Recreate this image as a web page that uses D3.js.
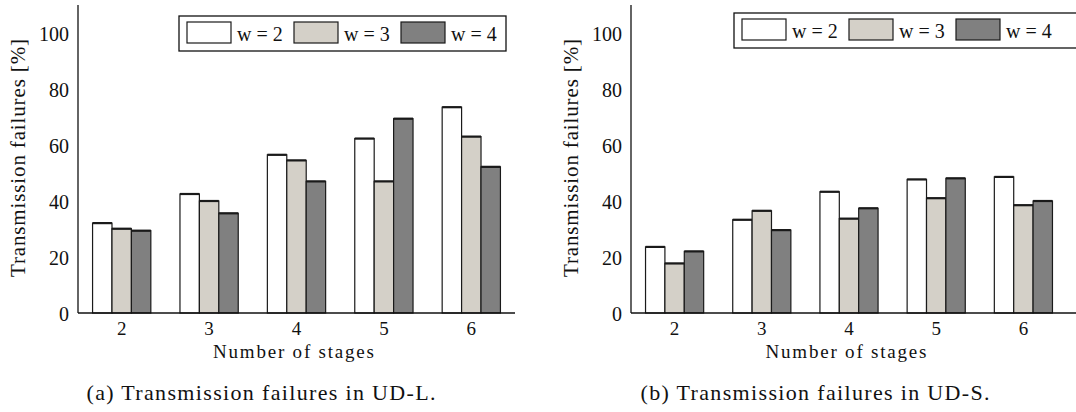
<!DOCTYPE html>
<html>
<head>
<meta charset="utf-8">
<script src="https://cdn.jsdelivr.net/npm/d3@7"></script>
<style>
  body { margin: 0; background: #fff; }
  svg { display: block; font-family: "Liberation Serif", serif; fill: #111; }
</style>
</head>
<body>
<div id="chart"></div>
<script>
var stages = ['2', '3', '4', '5', '6'];
var series = ['w = 2', 'w = 3', 'w = 4'];
var colors = ['#ffffff', '#d4d0c8', '#808080'];
var yTicks = [0, 20, 40, 60, 80, 100];

// UD-L
var udlW2 = [32.1, 42.5, 56.5, 62.3, 73.5];
var udlW3 = [30.1, 40.0, 54.5, 47.0, 63.0];
var udlW4 = [29.4, 35.6, 47.0, 69.4, 52.2];
// UD-S
var udsW2 = [23.6, 33.3, 43.3, 47.7, 48.6];
var udsW3 = [17.7, 36.5, 33.7, 41.0, 38.5];
var udsW4 = [22.0, 29.6, 37.4, 48.1, 40.0];

var panels = [
  { caption: '(a) Transmission failures in UD-L.', data: [udlW2, udlW3, udlW4],
    x0: 78, x1: 515, lineEnd: 515, capX: 261, legX: 179, legY: 16, legW: 327 },
  { caption: '(b) Transmission failures in UD-S.', data: [udsW2, udsW3, udsW4],
    x0: 631, x1: 1067, lineEnd: 1080, capX: 815, legX: 734, legY: 13, legW: 360 }
];

var width = 1076, height = 412;
var svg = d3.select('#chart').append('svg')
  .attr('width', width)
  .attr('height', height);

var y = d3.scaleLinear().domain([0, 110]).range([313, 5]);

panels.forEach(function(p) {
  var g = svg.append('g');

  var x = d3.scaleBand().domain(stages).range([p.x0, p.x1])
    .paddingInner(1 / 3).paddingOuter(1 / 6);
  var xs = d3.scaleBand().domain(series).range([0, x.bandwidth()]);

  // bars
  series.forEach(function(s, si) {
    var grp = g.append('g');
    grp.selectAll('rect')
      .data(p.data[si])
      .enter().append('rect')
      .attr('x', function(d, i) { return x(stages[i]) + xs(s); })
      .attr('y', function(d) { return y(d); })
      .attr('width', xs.bandwidth())
      .attr('height', function(d) { return y(0) - y(d); })
      .attr('fill', colors[si])
      .attr('stroke', '#1a1a1a')
      .attr('stroke-width', 1.2);
    // thick cap on each bar top
    grp.selectAll('line')
      .data(p.data[si])
      .enter().append('line')
      .attr('x1', function(d, i) { return x(stages[i]) + xs(s); })
      .attr('x2', function(d, i) { return x(stages[i]) + xs(s) + xs.bandwidth(); })
      .attr('y1', function(d) { return y(d); })
      .attr('y2', function(d) { return y(d); })
      .attr('stroke', '#1a1a1a')
      .attr('stroke-width', 2.2);
  });

  // axes lines
  g.append('line')
    .attr('x1', p.x0).attr('x2', p.x0)
    .attr('y1', y(110)).attr('y2', y(0))
    .attr('stroke', '#111').attr('stroke-width', 1.3);
  g.append('line')
    .attr('x1', p.x0).attr('x2', p.lineEnd)
    .attr('y1', y(0)).attr('y2', y(0))
    .attr('stroke', '#111').attr('stroke-width', 1.3);

  // y tick labels
  g.selectAll('.ytick')
    .data(yTicks)
    .enter().append('text')
    .attr('class', 'ytick')
    .attr('x', p.x0 - 9)
    .attr('y', function(d) { return y(d) + 8; })
    .attr('text-anchor', 'end')
    .style('font-size', '20px')
    .text(function(d) { return d; });

  // x tick labels
  g.selectAll('.xtick')
    .data(stages)
    .enter().append('text')
    .attr('class', 'xtick')
    .attr('x', function(d) { return x(d) + x.bandwidth() / 2; })
    .attr('y', 335)
    .attr('text-anchor', 'middle')
    .style('font-size', '19px')
    .text(function(d) { return d; });

  // axis titles
  g.append('text')
    .attr('x', (p.x0 + p.x1) / 2 - 3)
    .attr('y', 358)
    .attr('text-anchor', 'middle')
    .attr('textLength', 161)
    .style('font-size', '19px')
    .text('Number of stages');

  g.append('text')
    .attr('transform', 'translate(' + (p.x0 - 53) + ',' + 158 + ') rotate(-90)')
    .attr('text-anchor', 'middle')
    .attr('textLength', 238)
    .style('font-size', '21px')
    .text('Transmission failures [%]');

  // caption
  g.append('text')
    .attr('x', p.capX)
    .attr('y', 400)
    .attr('text-anchor', 'middle')
    .attr('textLength', 349)
    .style('font-size', '22px')
    .text(p.caption);

  // legend
  var leg = g.append('g');
  leg.append('rect')
    .attr('x', p.legX).attr('y', p.legY)
    .attr('width', p.legW).attr('height', 35)
    .attr('fill', '#fff')
    .attr('stroke', '#111').attr('stroke-width', 1.3);
  var items = leg.selectAll('.item')
    .data(series)
    .enter().append('g')
    .attr('class', 'item')
    .attr('transform', function(d, i) {
      return 'translate(' + (p.legX + 8 + i * 107) + ',' + (p.legY + 6) + ')';
    });
  items.append('rect')
    .attr('width', 44).attr('height', 21)
    .attr('fill', function(d, i) { return colors[i]; })
    .attr('stroke', '#1a1a1a').attr('stroke-width', 1.2);
  items.append('text')
    .attr('x', 50).attr('y', 19)
    .style('font-size', '20px')
    .text(function(d) { return d; });
});
</script>
</body>
</html>
